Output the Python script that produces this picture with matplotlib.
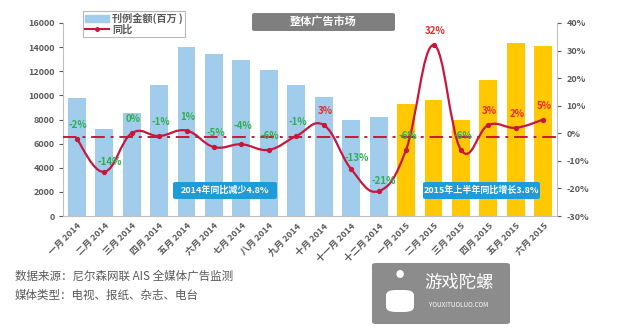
import numpy as np
import matplotlib
matplotlib.use("Agg")
import matplotlib.pyplot as plt
from matplotlib.path import Path
from matplotlib.patches import PathPatch, FancyBboxPatch, Patch
from matplotlib.lines import Line2D
from matplotlib.ticker import FuncFormatter

plt.rcParams['font.family'] = ['Noto Sans CJK SC', 'DejaVu Sans']

# monthly data
months = ["一月 2014", "二月 2014", "三月 2014", "四月 2014", "五月 2014", "六月 2014",
          "七月 2014", "八月 2014", "九月 2014", "十月 2014", "十一月 2014", "十二月 2014",
          "一月 2015", "二月 2015", "三月 2015", "四月 2015", "五月 2015", "六月 2015"]
amount = [9800, 7200, 8500, 10900, 14000, 13400, 12900, 12100, 10900,
          9900, 8000, 8200, 9300, 9600, 8000, 11250, 14350, 14100]
yoy = [-2, -14, 0, -1, 1, -5, -4, -6, -1, 3, -13, -21, -6, 32, -6, 3, 2, 5]
year = [2014] * 12 + [2015] * 6
ref_level = -1.5

BLUE = '#A2CCEC'
GOLD = '#FFC800'
RED = '#C8173E'
GREEN = '#2FAE4E'
LABEL_RED = '#E52B2B'
GREY = '#595959'

fig = plt.figure(figsize=(6.4, 3.35), dpi=100)
ax = fig.add_axes([63 / 640, 1 - 216 / 335, 494 / 640, 193 / 335])
x = np.arange(len(months))

colors = [BLUE if y == 2014 else GOLD for y in year]
ax.bar(x, amount, width=0.65, color=colors, zorder=1)
ax.set_xlim(-0.5, len(months) - 0.5)
ax.set_ylim(0, 16000)
ax.set_yticks(np.arange(0, 16001, 2000))
ax.set_xticks(x)
ax.set_xticklabels(months, rotation=45, ha='right', va='top', rotation_mode='anchor')
ax.tick_params(axis='x', length=0, pad=4, labelsize=6.5, colors=GREY)
ax.tick_params(axis='y', length=3, labelsize=6.5, colors=GREY, pad=3)
for lbl in ax.get_xticklabels() + ax.get_yticklabels():
    lbl.set_fontweight('bold')
ax.spines['top'].set_visible(False)
ax.spines['right'].set_visible(False)
for s in ['left', 'bottom']:
    ax.spines[s].set_color('#BFBFBF')

ax2 = ax.twinx()
ax2.set_ylim(-30, 40)
ax2.set_yticks(np.arange(-30, 41, 10))
ax2.yaxis.set_major_formatter(FuncFormatter(lambda v, p: f"{v:.0f}%"))
ax2.tick_params(axis='y', length=3, labelsize=6.5, colors=GREY, pad=4)
for lbl in ax2.get_yticklabels():
    lbl.set_fontweight('bold')
for s in ['top', 'left', 'bottom']:
    ax2.spines[s].set_visible(False)
ax2.spines['right'].set_color('#BFBFBF')

ax2.axhline(ref_level, color=RED, lw=1.4, ls=(0, (7, 3, 1.5, 3)), zorder=2)

# smoothed line through the year-on-year points (Catmull-Rom as cubic Beziers)
pts = np.column_stack([x, yoy]).astype(float)
verts = [pts[0]]
codes = [Path.MOVETO]
for i in range(len(pts) - 1):
    p0 = pts[i - 1] if i > 0 else pts[i]
    p1, p2 = pts[i], pts[i + 1]
    p3 = pts[i + 2] if i + 2 < len(pts) else pts[i + 1]
    c1 = p1 + (p2 - p0) / 5
    c2 = p2 - (p3 - p1) / 5
    verts += [c1, c2, p2]
    codes += [Path.CURVE4] * 3
ax2.add_patch(PathPatch(Path(verts, codes), fill=False, edgecolor=RED, lw=1.6, zorder=3))
ax2.plot(x, yoy, ls='none', marker='o', ms=2.8, color=RED, zorder=4)

# value labels
offsets = {1: (4, 7), 6: (1, 13), 10: (4, 8), 11: (4, 7)}
for i, v in enumerate(yoy):
    dx, dy = offsets.get(i, (1, 10))
    c = LABEL_RED if v > 1 else GREEN
    ax2.annotate(f"{v}%", (i, v), xytext=(dx, dy), textcoords='offset points',
                 ha='center', va='center', fontsize=7, fontweight='bold', color=c, zorder=5)

# legend
handles = [Patch(color=BLUE), Line2D([], [], color=RED, marker='o', ms=2.5, lw=1.5)]
leg = fig.legend(handles, ["刊例金额(百万 )", "同比"], loc='upper left',
                 bbox_to_anchor=(83 / 640, 1 - 11 / 335), fontsize=7.3, frameon=True,
                 fancybox=False, edgecolor='#A6A6A6', borderpad=0.2, labelspacing=0.0,
                 handlelength=2.4, handletextpad=0.3, borderaxespad=0)
leg.get_frame().set_linewidth(0.8)
for t in leg.get_texts():
    t.set_fontweight('bold')
    t.set_color(GREY)


def box(x0, y0, x1, y1, fc, text, size, r=3):
    w, h = (x1 - x0) / 640, (y1 - y0) / 335
    fig.patches.append(FancyBboxPatch((x0 / 640, 1 - y1 / 335), w, h,
                                      boxstyle=f"round,pad=0,rounding_size={r / 640}",
                                      transform=fig.transFigure, fc=fc, ec='none', zorder=6))
    fig.text((x0 + x1) / 2 / 640, 1 - (y0 + y1) / 2 / 335, text, ha='center', va='center',
             fontsize=size, fontweight='bold', color='white', zorder=7)


box(252, 13, 395, 31, '#7F7F7F', "整体广告市场", 8)
box(173, 182, 277, 199, '#1F9BD7', "2014年同比减少4.8%", 6.5)
box(423, 182, 540, 199, '#1F9BD7', "2015年上半年同比增长3.8%", 6.5)

# source notes
fig.text(15 / 640, 1 - 276 / 335, "数据来源：尼尔森网联 AIS 全媒体广告监测", fontsize=8.3,
         color=GREY, va='center')
fig.text(15 / 640, 1 - 295 / 335, "媒体类型：电视、报纸、杂志、电台", fontsize=8.3,
         color=GREY, va='center')

# site badge
fig.patches.append(FancyBboxPatch((372 / 640, 1 - 324 / 335), 138 / 640, 61 / 335,
                                  boxstyle=f"round,pad=0,rounding_size={4 / 640}",
                                  transform=fig.transFigure, fc='#8C8C8C', ec='none'))
fig.patches.append(FancyBboxPatch((386 / 640, 1 - 312 / 335), 28 / 640, 22 / 335,
                                  boxstyle=f"round,pad=0,rounding_size={10 / 640}",
                                  transform=fig.transFigure, fc='white', ec='none'))
fig.text(400 / 640, 1 - 274 / 335, "●", fontsize=6, color='white', ha='center', va='center')
fig.text(459 / 640, 1 - 283 / 335, "游戏陀螺", fontsize=12.5, color='white', ha='center', va='center')
fig.text(459 / 640, 1 - 305 / 335, "YOUXITUOLUO.COM", fontsize=4.5, color='white', ha='center', va='center')

fig.savefig("out.png", dpi=100, facecolor='white')
